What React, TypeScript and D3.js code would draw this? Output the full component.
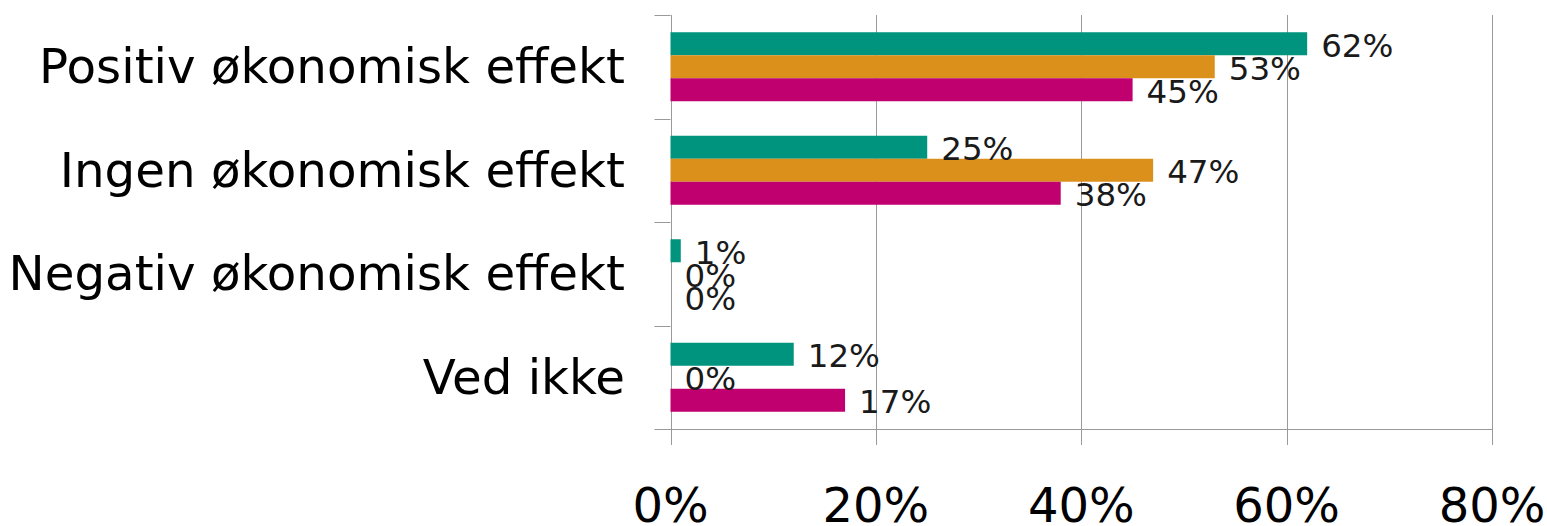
import React from "react";
import * as d3 from "d3";

const categories = [
  "Positiv økonomisk effekt",
  "Ingen økonomisk effekt",
  "Negativ økonomisk effekt",
  "Ved ikke",
];
const seriesNames = ["A", "B", "C"];
const seriesA = [0.62, 0.25, 0.01, 0.12];
const seriesB = [0.53, 0.47, 0.0, 0.0];
const seriesC = [0.45, 0.38, 0.0, 0.17];
const seriesValues = [seriesA, seriesB, seriesC];
const colors = ["#00937E", "#DB901C", "#C0006F"];
const xTicks = [0, 0.2, 0.4, 0.6, 0.8];

const W = 1547;
const H = 526;
const LEFT = 670.5;
const RIGHT = 1492;
const TOP = 15;
const BOTTOM = 429;
const GRID = "#9a9a9a";
const FONT = "'DejaVu Sans', Verdana, sans-serif";

export default function App() {
  const x = d3.scaleLinear().domain([0, 0.8]).range([LEFT, RIGHT]);
  const y = d3.scaleBand<string>().domain(categories).range([TOP, BOTTOM]).padding(0);
  const inner = d3
    .scaleBand<string>()
    .domain(seriesNames)
    .range([0, y.bandwidth()])
    .paddingInner(0)
    .paddingOuter(0.75);
  const fmt = d3.format(".0%");
  const boundaries = [...categories.map((c) => y(c) as number), BOTTOM];

  return (
    <svg
      width={W}
      height={H}
      style={{ position: "absolute", left: 0, top: 0, background: "#fff" }}
      fontFamily={FONT}
    >
      {xTicks.map((t) => (
        <line
          key={"g" + t}
          x1={Math.round(x(t)) + 0.5}
          x2={Math.round(x(t)) + 0.5}
          y1={TOP}
          y2={BOTTOM + 16}
          stroke={GRID}
          strokeWidth={1}
        />
      ))}
      {boundaries.map((b, i) => (
        <line
          key={"yt" + i}
          x1={LEFT - 16}
          x2={i === boundaries.length - 1 ? RIGHT : LEFT}
          y1={Math.round(b) + 0.5}
          y2={Math.round(b) + 0.5}
          stroke={GRID}
          strokeWidth={1}
        />
      ))}
      {categories.map((c, ci) =>
        seriesNames.map((s, si) => {
          const v = seriesValues[si][ci];
          const y0 = (y(c) as number) + (inner(s) as number);
          return (
            <rect
              key={c + s}
              x={x(0)}
              y={y0}
              width={x(v) - x(0)}
              height={inner.bandwidth()}
              fill={colors[si]}
            />
          );
        })
      )}
      {categories.map((c, ci) =>
        seriesNames.map((s, si) => {
          const v = seriesValues[si][ci];
          const yc = (y(c) as number) + (inner(s) as number) + inner.bandwidth() / 2;
          return (
            <text
              key={"l" + c + s}
              x={x(v) + 14}
              y={yc + 13}
              fontSize={32.5}
              fill="#1a1a1a"
            >
              {fmt(v)}
            </text>
          );
        })
      )}
      {categories.map((c) => (
        <text
          key={"c" + c}
          x={625}
          y={(y(c) as number) + y.bandwidth() / 2 + 16.5}
          fontSize={48.3}
          textAnchor="end"
          fill="#000"
        >
          {c}
        </text>
      ))}
      {xTicks.map((t) => (
        <text
          key={"xl" + t}
          x={x(t)}
          y={522}
          fontSize={48}
          textAnchor="middle"
          fill="#000"
        >
          {fmt(t)}
        </text>
      ))}
    </svg>
  );
}
